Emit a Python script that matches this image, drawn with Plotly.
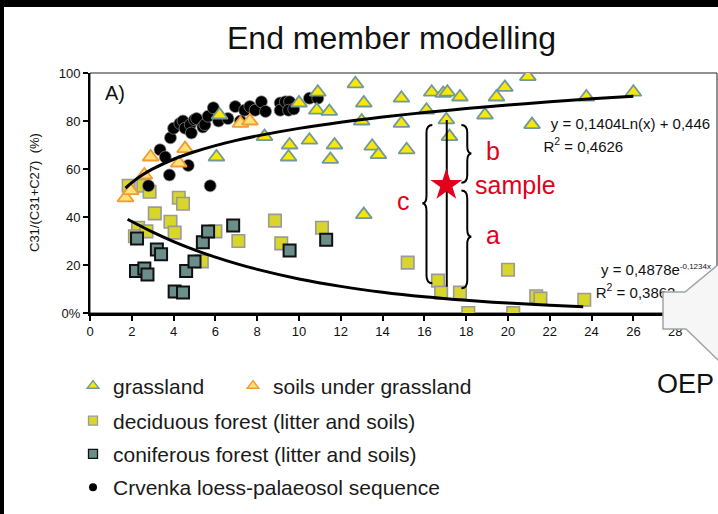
import math
import plotly.graph_objects as go

# ---------------- data ----------------
grass_x = [6.2, 6.05, 8.35, 9.55, 9.5, 10.0, 10.9, 10.85, 11.45, 12.7, 13.1, 13.0, 14.9, 14.9,
           16.35, 16.9, 17.1, 17.7, 16.1, 17.05, 17.2, 18.9, 19.45, 19.85, 20.95, 10.5, 11.7,
           11.5, 13.5, 13.8, 15.15, 13.1, 23.75, 26.0, 21.15]
grass_y = [82.5, 65, 73.5, 70, 65, 87.5, 92, 84.5, 84, 95.5, 87.5, 80, 89.5, 79,
           92, 91.5, 92, 90, 84.5, 80.5, 73.5, 82.5, 90, 94, 98.5, 72, 70,
           64, 69.5, 66, 68, 41, 90, 92, 78.5]

soil_x = [1.7, 1.95, 2.6, 2.9, 4.25, 4.55, 7.2, 7.65]
soil_y = [48, 51, 57.5, 65, 62.5, 68.5, 79, 80]

decid_x = [1.85, 2.55, 2.85, 4.25, 4.45, 3.1, 3.85, 4.05, 2.3, 2.15, 2.7, 6.0, 7.1, 5.35,
           8.85, 9.15, 11.1, 15.2, 16.65, 16.8, 17.7, 18.1, 20.0, 20.25, 21.35, 21.55, 23.65]
decid_y = [53, 53, 50.5, 48, 45.5, 41.5, 38, 33.5, 35.5, 32, 34, 34, 30, 21.5,
           38.5, 29, 35.5, 21, 13.5, 8.5, 8.5, 0, 18, 0, 7, 6, 5.5]

conif_x = [2.25, 2.2, 2.6, 2.75, 3.2, 3.4, 4.05, 4.45, 4.6, 5.0, 5.4, 5.65, 6.85, 9.55, 11.3]
conif_y = [31, 17.5, 18.5, 16, 26.5, 24.5, 9, 8.5, 17.5, 21.5, 29.5, 34, 36.5, 26, 30.5]

crv_x = [2.8, 3.35, 3.6, 3.85, 4.0, 3.8, 4.7, 5.75, 4.3, 4.45, 4.55, 4.8, 4.85, 5.0, 5.1,
         5.4, 5.5, 5.65, 5.9, 6.15, 6.6, 6.95, 7.2, 7.4, 7.65, 7.9, 8.2, 8.4, 9.1, 9.1,
         9.35, 9.55, 9.5, 9.75, 10.5, 10.9]
crv_y = [53, 68, 65, 73, 77, 57.5, 61.5, 53, 79, 80, 77, 78.5, 75, 80.5, 81,
         77.5, 78.5, 82, 85.5, 80, 81, 86, 80, 84.5, 86, 84.5, 88, 84, 87.5, 84.5,
         88, 88, 84.5, 85, 89.5, 89.5]

sample_x = [17.05]
sample_y = [53.3]
sample_line_x = [17.07, 17.07]
sample_line_y = [80.4, 11.0]

# trendline coefficients as printed on the chart
log_a, log_b = 0.1404, 0.446
log_x = [1.7, 2, 2.5, 3, 4, 5, 6, 7, 8, 10, 12, 14, 16, 18, 20, 22, 24, 26]
exp_a, exp_k = 0.4878, -0.1234
exp_x = [1.8, 2, 3, 4, 5, 6, 7, 8, 10, 12, 14, 16, 18, 20, 22, 23.6]

x_ticks = list(range(0, 31, 2))
y_ticks = [0, 20, 40, 60, 80, 100]
y_ticktext = ["0%", "20", "40", "60", "80", "100"]

# ---------------- geometry ----------------
W, H = 718, 514
ML, MR, MT, MB = 90, 1, 73, 201
PW, PH = W - ML - MR, H - MT - MB


def pxx(px):
    return (px - ML) / PW


def pxy(py):
    return (H - MB - py) / PH


FONT = "Liberation Sans, Arial, sans-serif"
RED = "#e3001b"

fig = go.Figure()

mk_common = dict(mode="markers", showlegend=False, hoverinfo="skip")
fig.add_trace(go.Scatter(x=decid_x, y=decid_y, marker=dict(symbol="square", size=12.5, color="#d9d62b",
                         line=dict(color="#9a9a9a", width=1.6)), **mk_common))
fig.add_trace(go.Scatter(x=conif_x, y=conif_y, marker=dict(symbol="square", size=12, color="#6b8e8a",
                         line=dict(color="#111111", width=2)), **mk_common))
fig.add_trace(go.Scatter(x=crv_x, y=crv_y, marker=dict(symbol="circle", size=12, color="#000000",
                         line=dict(color="#8a8a8a", width=0.7)), **mk_common))
fig.add_trace(go.Scatter(x=soil_x, y=soil_y, marker=dict(symbol="triangle-up", size=14, color="#ffe27a",
                         line=dict(color="#f39b35", width=1.8)), **mk_common))
fig.add_trace(go.Scatter(x=grass_x, y=grass_y, marker=dict(symbol="triangle-up", size=14, color="#fbe800",
                         line=dict(color="#72999a", width=1.8)), **mk_common))

# trendlines
log_y = [100 * (log_a * math.log(v) + log_b) for v in log_x]
exp_y = [100 * exp_a * math.exp(exp_k * v) for v in exp_x]
fig.add_trace(go.Scatter(x=log_x, y=log_y, mode="lines", line=dict(color="black", width=3, shape="spline"),
                         showlegend=False, hoverinfo="skip"))
fig.add_trace(go.Scatter(x=exp_x, y=exp_y, mode="lines", line=dict(color="black", width=3, shape="spline"),
                         showlegend=False, hoverinfo="skip"))

# sample line and star
fig.add_trace(go.Scatter(x=sample_line_x, y=sample_line_y, mode="lines", line=dict(color="black", width=2),
                         showlegend=False, hoverinfo="skip"))
fig.add_trace(go.Scatter(x=sample_x, y=sample_y, mode="markers",
                         marker=dict(symbol="star", size=24, color=RED, line=dict(width=0)),
                         showlegend=False, hoverinfo="skip"))

# equation texts (in plot layer so the callout can cover them)
eq_font = dict(family=FONT, size=15, color="#111111")
fig.add_trace(go.Scatter(x=[22.05, 21.7], y=[78.3, 68.8], mode="text",
                         text=["y = 0,1404Ln(x) + 0,446", "R<sup>2</sup> = 0,4626"],
                         textposition="middle right", textfont=eq_font, showlegend=False, hoverinfo="skip",
                         cliponaxis=False))
fig.add_trace(go.Scatter(x=[24.45, 24.2], y=[17.2, 7.9], mode="text",
                         text=["y = 0,4878e<sup><span style='font-size:8px'>-0,1234x</span></sup>",
                               "R<sup>2</sup> = 0,3862"],
                         textposition="middle right", textfont=eq_font, showlegend=False, hoverinfo="skip",
                         cliponaxis=False))

# legend entries (smaller symbols, like the reference legend)
fig.add_trace(go.Scatter(x=[None], y=[None], mode="markers", name="grassland", legend="legend",
                         marker=dict(symbol="triangle-up", size=10, color="#fbe800",
                                     line=dict(color="#72999a", width=1.5))))
fig.add_trace(go.Scatter(x=[None], y=[None], mode="markers", name="soils under grassland", legend="legend2",
                         marker=dict(symbol="triangle-up", size=10, color="#ffe27a",
                                     line=dict(color="#f39b35", width=1.5))))
fig.add_trace(go.Scatter(x=[None], y=[None], mode="markers", name="deciduous forest (litter and soils)",
                         legend="legend3", legendgroup="g1",
                         marker=dict(symbol="square", size=9, color="#d9d62b", line=dict(color="#9a9a9a", width=1.3))))
fig.add_trace(go.Scatter(x=[None], y=[None], mode="markers", name="coniferous forest (litter and soils)",
                         legend="legend3", legendgroup="g2",
                         marker=dict(symbol="square", size=9, color="#6b8e8a", line=dict(color="#111111", width=1.3))))
fig.add_trace(go.Scatter(x=[None], y=[None], mode="markers", name="Crvenka loess-palaeosol sequence",
                         legend="legend3", legendgroup="g3",
                         marker=dict(symbol="circle", size=8, color="#000000")))


def brace(x, yt, yb, ytip, s, h=0.28, w=0.2, c=3.2):
    # s = +1 for "{" (tip left), -1 for "}" (tip right)
    return (f"M {x + s * h},{yt} Q {x},{yt} {x},{yt - c} L {x},{ytip + c} "
            f"Q {x},{ytip} {x - s * w},{ytip} Q {x},{ytip} {x},{ytip - c} "
            f"L {x},{yb + c} Q {x},{yb} {x + s * h},{yb}")


shapes = [
    # thin top/right frame
    dict(type="rect", xref="paper", yref="paper", x0=0, x1=1, y0=0, y1=1,
         line=dict(color="#222222", width=1), layer="below"),
    dict(type="path", xref="x", yref="y", path=brace(16.1, 78.3, 12.4, 45.7, 1), line=dict(color="black", width=2)),
    dict(type="path", xref="x", yref="y", path=brace(18.05, 78.3, 54.3, 66.5, -1), line=dict(color="black", width=2)),
    dict(type="path", xref="x", yref="y", path=brace(18.05, 51.0, 10.3, 31.8, -1), line=dict(color="black", width=2)),
    # callout shape at the bottom right
    dict(type="path", xref="paper", yref="paper",
         path=(f"M {pxx(719)},{pxy(264)} L {pxx(685)},{pxy(292)} L {pxx(663)},{pxy(292)} "
               f"L {pxx(663)},{pxy(329)} L {pxx(686)},{pxy(329)} L {pxx(719)},{pxy(361)} Z"),
         fillcolor="#f6f6f6", line=dict(color="#a3a3a3", width=1.5), layer="above"),
    # black slide edges
    dict(type="rect", xref="paper", yref="paper", x0=pxx(0), x1=pxx(W), y0=pxy(7), y1=pxy(0),
         fillcolor="black", line=dict(width=0), layer="above"),
    dict(type="rect", xref="paper", yref="paper", x0=pxx(0), x1=pxx(4), y0=pxy(H), y1=pxy(0),
         fillcolor="black", line=dict(width=0), layer="above"),
]

red_font = dict(family=FONT, size=25, color=RED)
annotations = [
    dict(text="End member modelling", xref="paper", yref="paper", x=pxx(391), y=pxy(38),
         showarrow=False, font=dict(family=FONT, size=32, color="#111111"), xanchor="center", yanchor="middle"),
    dict(text="A)", xref="paper", yref="paper", x=pxx(103), y=pxy(93), showarrow=False,
         font=dict(family=FONT, size=20, color="#111111"), xanchor="left", yanchor="middle"),
    dict(text="C31/(C31+C27)  (%)", xref="paper", yref="paper", x=pxx(34), y=0.5, textangle=-90,
         showarrow=False, font=dict(family=FONT, size=13, color="#111111"), xanchor="center", yanchor="middle"),
    dict(text="c", x=14.98, y=46.5, showarrow=False, font=red_font),
    dict(text="b", x=19.3, y=67.5, showarrow=False, font=red_font),
    dict(text="a", x=19.3, y=32.5, showarrow=False, font=red_font),
    dict(text="sample", x=20.35, y=53.5, showarrow=False, font=red_font),
    dict(text="OEP", xref="paper", yref="paper", x=pxx(685), y=pxy(384), showarrow=False,
         font=dict(family=FONT, size=27, color="#111111"), xanchor="center", yanchor="middle"),
]

leg_font = dict(family=FONT, size=21, color="#1a1a1a")
fig.update_layout(
    width=W, height=H,
    margin=dict(l=ML, r=MR, t=MT, b=MB, pad=0),
    paper_bgcolor="white", plot_bgcolor="white",
    font=dict(family=FONT, size=13, color="#111111"),
    shapes=shapes, annotations=annotations,
    xaxis=dict(range=[0, 30], tickvals=x_ticks, showgrid=False, zeroline=False, showline=True,
               linecolor="black", linewidth=2.5, ticks="outside", ticklen=5, tickwidth=1.5,
               tickcolor="black", tickfont=dict(family=FONT, size=13, color="#111111")),
    yaxis=dict(range=[0, 100], tickvals=y_ticks, ticktext=y_ticktext, showgrid=False, zeroline=False,
               showline=True, linecolor="black", linewidth=2, ticks="outside", ticklen=5, tickwidth=1.5,
               tickcolor="black", tickfont=dict(family=FONT, size=13, color="#111111")),
    legend=dict(x=pxx(73), y=pxy(386), xanchor="left", yanchor="middle", font=leg_font,
                bgcolor="rgba(0,0,0,0)", borderwidth=0),
    legend2=dict(x=pxx(233), y=pxy(386), xanchor="left", yanchor="middle", font=leg_font,
                 bgcolor="rgba(0,0,0,0)", borderwidth=0),
    legend3=dict(x=pxx(73), y=pxy(454), xanchor="left", yanchor="middle", font=leg_font,
                 bgcolor="rgba(0,0,0,0)", borderwidth=0, tracegroupgap=3),
    showlegend=True,
)

fig.write_html("out.html", config={"displayModeBar": False},
               post_script="document.body.style.margin='0';document.body.style.overflow='hidden';")
